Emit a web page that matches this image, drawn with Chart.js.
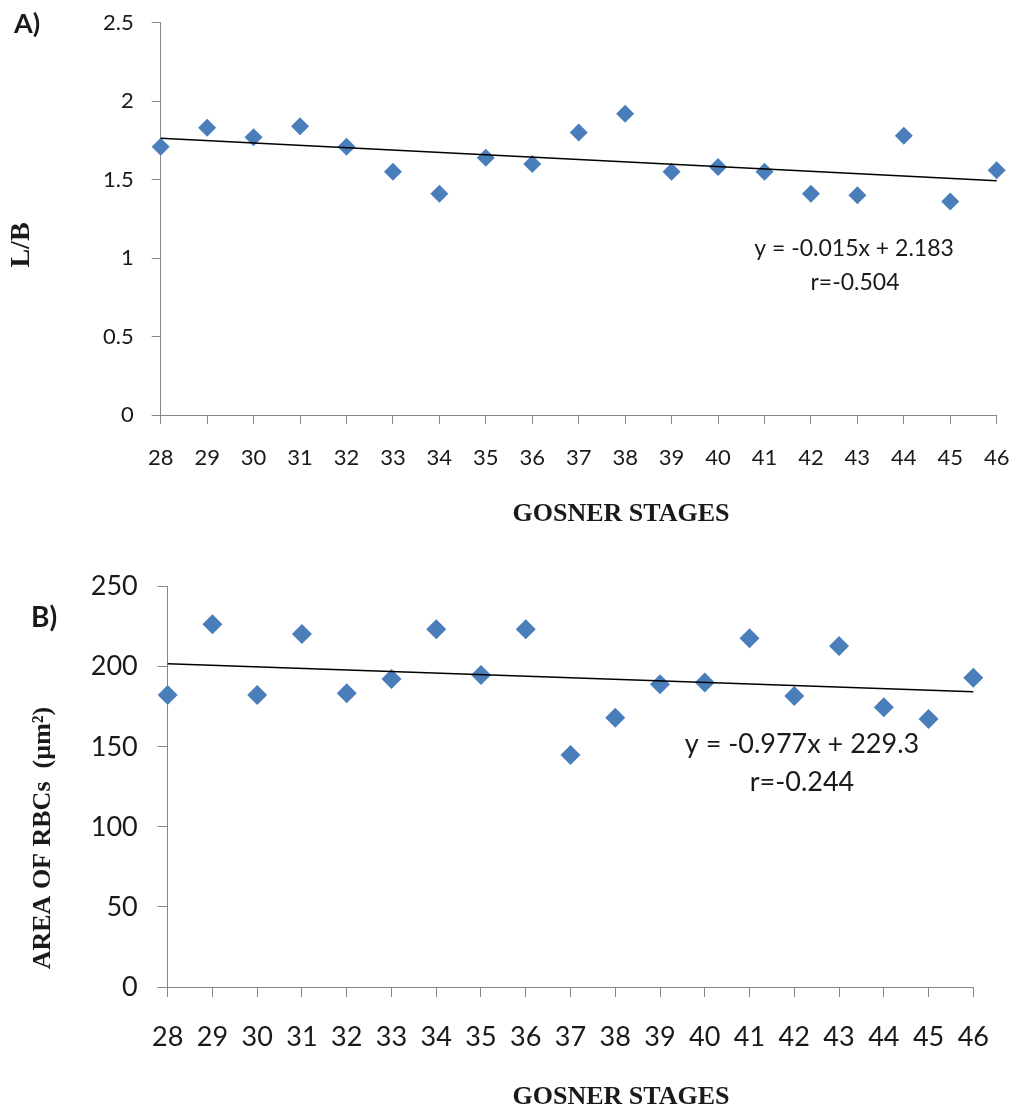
<!DOCTYPE html>
<html>
<head>
<meta charset="utf-8">
<title>RBC shape and area across Gosner stages</title>
<script src="https://cdn.jsdelivr.net/npm/chart.js@4.4.1/dist/chart.umd.min.js"></script>
<style>
  html, body { margin: 0; padding: 0; background: #fff; }
  #wrap { position: relative; width: 1015px; height: 1114px; }
  canvas { position: absolute; left: 0; }
  #chartA { top: 0; }
  #chartB { top: 550px; }
</style>
</head>
<body>
<div id="wrap">
  <canvas id="chartA" width="1015" height="550"></canvas>
  <canvas id="chartB" width="1015" height="564"></canvas>
</div>
<script>
// Gosner stages on the x axis
const stages = [28, 29, 30, 31, 32, 33, 34, 35, 36, 37, 38, 39, 40, 41, 42, 43, 44, 45, 46];

// A) length / breadth ratio of RBCs
const ratioLB = [1.71, 1.83, 1.77, 1.84, 1.71, 1.55, 1.41, 1.64, 1.60, 1.80,
                 1.92, 1.55, 1.58, 1.55, 1.41, 1.40, 1.78, 1.36, 1.56];
const ticksA = [0, 0.5, 1, 1.5, 2, 2.5];
const fitA = { slope: -0.015, intercept: 2.183, r: '-0.504' };

// B) area of RBCs (µm²)
const areaRBC = [182.4, 226.5, 182.4, 220.5, 183.4, 192.4, 223.4, 194.9, 223.4, 144.9,
                 168.2, 189.1, 190.1, 217.8, 181.8, 213.0, 174.7, 167.4, 193.2];
const ticksB = [0, 50, 100, 150, 200, 250];
const fitB = { slope: -0.977, intercept: 229.3, r: '-0.244' };

const BLUE = '#4a7ebb';
const AXIS = '#868686';
const TEXT = '#1a1a1a';
const SANS = 'Lato, "Open Sans", sans-serif';
const SERIF = '"Liberation Serif", "Times New Roman", serif';

// free text (panel letter, axis titles, fit equation) drawn after the datasets
const panelText = {
  id: 'panelText',
  afterDraw(chart, args, opts) {
    const ctx = chart.ctx;
    (opts.items || []).forEach(it => {
      ctx.save();
      ctx.font = it.font;
      ctx.fillStyle = it.color || TEXT;
      ctx.textAlign = it.align || 'center';
      ctx.textBaseline = 'middle';
      ctx.translate(it.x, it.y);
      if (it.rotate) ctx.rotate(it.rotate);
      ctx.fillText(it.text, 0, 0);
      ctx.restore();
    });
  }
};

function equation(fit) {
  return 'y = ' + fit.slope.toFixed(3) + 'x + ' + fit.intercept;
}

// keep the plot box where the layout padding puts it
function noEdgePadding(s) {
  s.paddingTop = 0;
  s.paddingBottom = 0;
  s.paddingLeft = 0;
  s.paddingRight = 0;
}

function makeChart(id, cfg) {
  const canvas = document.getElementById(id);
  const fitLine = [stages[0], stages[stages.length - 1]]
    .map(s => ({ x: s, y: cfg.fit.slope * s + cfg.fit.intercept }));

  return new Chart(canvas, {
    type: 'scatter',
    data: {
      datasets: [
        {
          label: 'fit',
          data: fitLine,
          showLine: true,
          borderColor: '#000',
          borderWidth: 1.5,
          pointRadius: 0,
          order: 0,
          clip: false
        },
        {
          label: 'values',
          data: stages.map((s, i) => ({ x: s, y: cfg.values[i] })),
          pointStyle: 'rectRot',
          pointRadius: cfg.markerR,
          pointHoverRadius: cfg.markerR,
          backgroundColor: BLUE,
          borderColor: BLUE,
          borderWidth: 0,
          order: 1,
          clip: false
        }
      ]
    },
    options: {
      responsive: false,
      animation: false,
      events: [],
      layout: { padding: { left: 0, top: cfg.area.top, right: canvas.width - cfg.area.right, bottom: 0 } },
      plugins: {
        legend: { display: false },
        tooltip: { enabled: false },
        panelText: { items: cfg.text }
      },
      scales: {
        x: {
          type: 'linear',
          min: stages[0],
          max: stages[stages.length - 1],
          afterBuildTicks: s => { s.ticks = stages.map(v => ({ value: v })); },
          afterFit: s => { s.height = canvas.height - cfg.area.bottom; noEdgePadding(s); },
          border: { color: AXIS, width: 1 },
          grid: { drawOnChartArea: false, drawTicks: true, tickLength: cfg.tickLen, color: AXIS },
          ticks: { color: TEXT, padding: cfg.xPad, maxRotation: 0, autoSkip: false,
                   font: { family: SANS, size: cfg.tickSize } }
        },
        y: {
          min: cfg.ticks[0],
          max: cfg.ticks[cfg.ticks.length - 1],
          afterBuildTicks: s => { s.ticks = cfg.ticks.map(v => ({ value: v })); },
          afterFit: s => { s.width = cfg.area.left; noEdgePadding(s); },
          border: { color: AXIS, width: 1 },
          grid: { drawOnChartArea: false, drawTicks: true, tickLength: cfg.tickLen, color: AXIS },
          ticks: { color: TEXT, padding: cfg.yPad, font: { family: SANS, size: cfg.tickSize },
                   callback: v => String(v) }
        }
      }
    },
    plugins: [panelText]
  });
}

makeChart('chartA', {
  values: ratioLB,
  ticks: ticksA,
  fit: fitA,
  markerR: 9,
  tickLen: 9,
  tickSize: 22,
  xPad: 21,
  yPad: 18,
  area: { left: 160.7, top: 22.7, right: 996.7, bottom: 415 },
  text: [
    { text: 'A)', x: 14, y: 24, align: 'left', font: 'bold 27px ' + SANS },
    { text: 'L/B', x: 22, y: 245, rotate: -Math.PI / 2, font: 'bold 28px ' + SERIF },
    { text: 'GOSNER STAGES', x: 621, y: 514, font: 'bold 26px ' + SERIF },
    { text: equation(fitA), x: 854, y: 249, font: '23px ' + SANS },
    { text: 'r=' + fitA.r, x: 855, y: 283, font: '23px ' + SANS }
  ]
});

makeChart('chartB', {
  values: areaRBC,
  ticks: ticksB,
  fit: fitB,
  markerR: 10,
  tickLen: 10,
  tickSize: 27,
  xPad: 24,
  yPad: 20,
  area: { left: 167.7, top: 36.7, right: 973.3, bottom: 437 },
  text: [
    { text: 'B)', x: 31, y: 68, align: 'left', font: 'bold 28px ' + SANS },
    { text: 'AREA OF RBCs  (µm²)', x: 43, y: 288, rotate: -Math.PI / 2, font: 'bold 26px ' + SERIF },
    { text: 'GOSNER STAGES', x: 621, y: 547, font: 'bold 26px ' + SERIF },
    { text: equation(fitB), x: 802, y: 194, font: '27px ' + SANS },
    { text: 'r=' + fitB.r, x: 802, y: 232, font: '27px ' + SANS }
  ]
});
</script>
</body>
</html>
